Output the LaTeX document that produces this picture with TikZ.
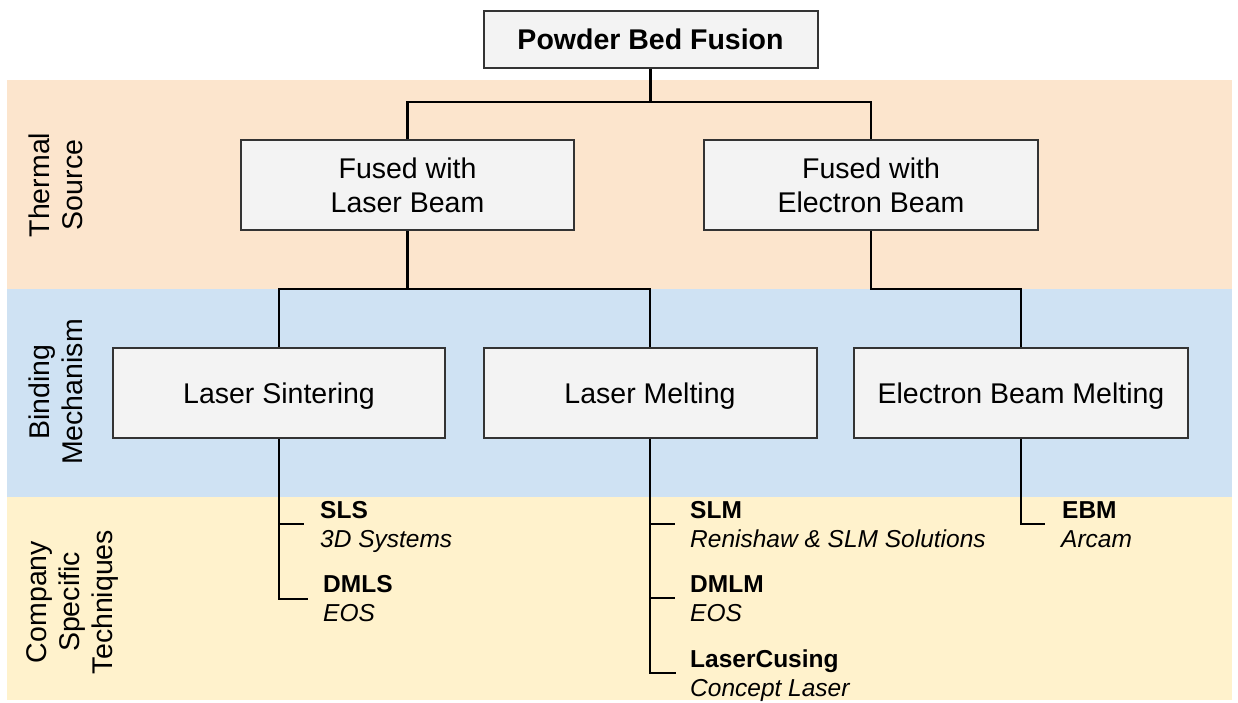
\documentclass[tikz,border=0pt]{standalone}
\usepackage{fontspec}
\setmainfont{Liberation Sans}
\definecolor{peach}{HTML}{FCE5CD}
\definecolor{paleblue}{HTML}{CFE2F3}
\definecolor{paleyellow}{HTML}{FFF2CC}
\definecolor{boxfill}{HTML}{F3F3F3}
\definecolor{boxline}{HTML}{333333}
\begin{document}
\begin{tikzpicture}[x=1pt,y=-1pt,
  band/.style={fill=#1,draw=none},
  box/.style={draw=boxline,line width=2pt,fill=boxfill,inner sep=0pt,
    align=center,font=\fontsize{28.5}{34}\selectfont},
  onebox/.style={box,text height=20pt,text depth=0pt},
  conn/.style={draw=black,line width=2.7pt},
  side/.style={rotate=90,align=center,inner sep=0pt,font=\fontsize{28.5}{33}\selectfont},
  ttl/.style={anchor=base west,inner sep=0pt,font=\fontsize{24.5}{28}\selectfont\bfseries},
  cmp/.style={anchor=base west,inner sep=0pt,font=\fontsize{24.5}{28}\selectfont\itshape}]
\useasboundingbox (0,0) rectangle (1238,702);
% bands
\fill[band=peach] (7,80) rectangle (1232,289);
\fill[band=paleblue] (7,289) rectangle (1232,497);
\fill[band=paleyellow] (7,497) rectangle (1232,700);
% side labels
\node[side] (lthermal) at (56,185) {Thermal\\Source};
\node[side] (lbinding) at (56,392) {Binding\\Mechanism};
\node[side] (lcompany) at (73,602) {Company\\Specific\\Techniques};
% boxes
\node[box,minimum width=334pt,minimum height=57pt,text height=21pt,text depth=0pt,
  font=\fontsize{28.5}{34}\selectfont\bfseries] (pbf) at (650.5,39) {Powder Bed Fusion};
\node[box,minimum width=333pt,minimum height=90pt] (fl) at (407.5,185) {Fused with\\Laser Beam};
\node[box,minimum width=334pt,minimum height=90pt] (fe) at (871,185) {Fused with\\Electron Beam};
\node[onebox,minimum width=332pt,minimum height=90pt] (ls) at (279,393) {Laser Sintering};
\node[onebox,minimum width=333pt,minimum height=90pt] (lm) at (650,393) {Laser Melting};
\node[onebox,minimum width=334pt,minimum height=90pt] (ebm) at (1021,393) {Electron Beam Melting};
% tree connectors
\draw[conn] (pbf.south) -- (pbf.south |- 0,102) -| (fl.north);
\draw[conn] (pbf.south |- 0,102) -| (fe.north);
\draw[conn] (fl.south) -- (fl.south |- 0,289) -| (ls.north);
\draw[conn] (fl.south |- 0,289) -| (lm.north);
\draw[conn] (fe.south) -- (fe.south |- 0,289) -| (ebm.north);
% company specific techniques
\node[ttl] (sls) at (320,518) {SLS};
\node[cmp] (sls3d) at (320,547) {3D Systems};
\node[ttl] (dmls) at (323,592.5) {DMLS};
\node[cmp] (dmlseos) at (323,621.5) {EOS};
\node[ttl] (slm) at (690,518) {SLM};
\node[cmp] (slmren) at (690,547) {Renishaw \& SLM Solutions};
\node[ttl] (dmlm) at (690,592.5) {DMLM};
\node[cmp] (dmlmeos) at (690,621.5) {EOS};
\node[ttl] (lcus) at (690,667) {LaserCusing};
\node[cmp] (lcuscl) at (690,696) {Concept Laser};
\node[ttl] (ebmt) at (1062,518) {EBM};
\node[cmp] (ebmarc) at (1061,547) {Arcam};
\coordinate (bsls) at (304,524);
\coordinate (bdmls) at (308,599);
\coordinate (bslm) at (675,524);
\coordinate (bdmlm) at (675,598);
\coordinate (blcus) at (676,673);
\coordinate (bebm) at (1045,524);
\draw[conn] (ls.south) |- (bsls);
\draw[conn] (ls.south) |- (bdmls);
\draw[conn] (lm.south) |- (bslm);
\draw[conn] (lm.south) |- (bdmlm);
\draw[conn] (lm.south) |- (blcus);
\draw[conn] (ebm.south) |- (bebm);
\end{tikzpicture}
\end{document}
